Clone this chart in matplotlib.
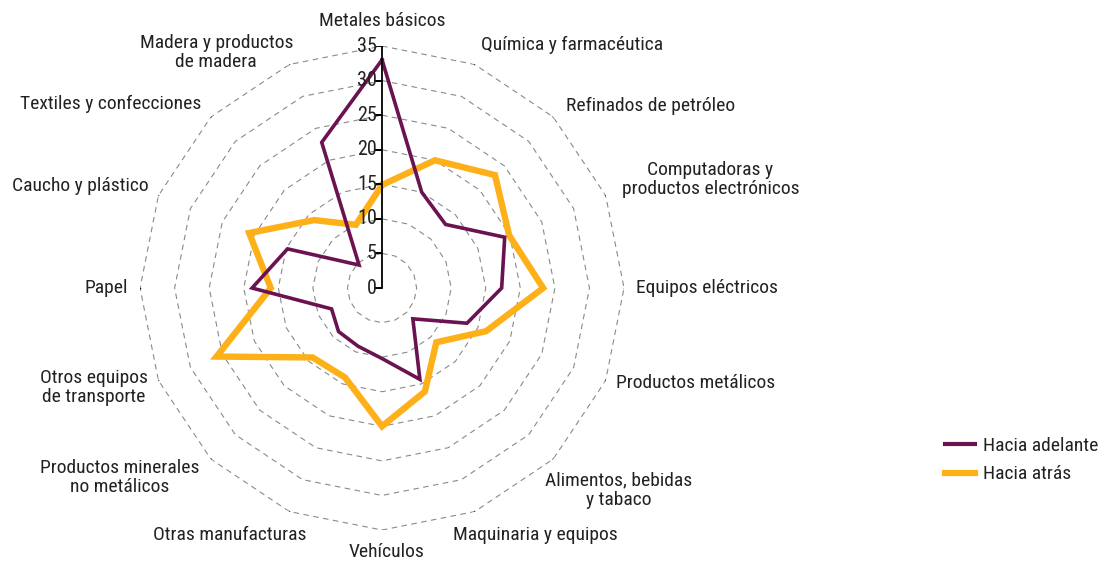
import matplotlib
matplotlib.use('Agg')
import matplotlib.pyplot as plt
import numpy as np
from matplotlib import font_manager
from matplotlib.transforms import offset_copy
from matplotlib.lines import Line2D

categories = ["Metales básicos", "Química y farmacéutica", "Refinados de petróleo",
              "Computadoras y\nproductos electrónicos", "Equipos eléctricos",
              "Productos metálicos", "Alimentos, bebidas\ny tabaco", "Maquinaria y equipos",
              "Vehículos", "Otras manufacturas", "Productos minerales\nno metálicos",
              "Otros equipos\nde transporte", "Papel", "Caucho y plástico",
              "Textiles y confecciones", "Madera y productos\nde madera"]
adelante = [33.0, 15.0, 13.0, 19.2, 17.3, 13.3, 6.3, 14.3, 10.2, 9.1, 8.9, 7.9, 18.8, 14.8, 4.7, 22.8]
atras = [14.9, 20.0, 23.1, 19.9, 23.3, 16.3, 11.1, 16.2, 20.0, 14.0, 14.2, 25.9, 16.1, 20.8, 13.9, 9.9]
ticks = [0, 5, 10, 15, 20, 25, 30, 35]
series_names = ["Hacia adelante", "Hacia atrás"]

names = {f.name for f in font_manager.fontManager.ttflist}
fam = next((f for f in ['Liberation Sans Narrow', 'Roboto Condensed', 'Open Sans Condensed']
            if f in names), 'DejaVu Sans')
plt.rcParams['font.family'] = [fam, 'DejaVu Sans']

PURPLE = '#6b1250'
ORANGE = '#fdb018'
GRID = '#8a8a8a'
TXT = '#222222'
LABEL_FS = 14
TICK_FS = 14.5

fig = plt.figure(figsize=(11.01, 5.62), dpi=100)
ax = fig.add_axes([0.1272, 0.0569, 0.4396, 0.8612], projection='polar')
ax.set_theta_zero_location('N')
ax.set_theta_direction(-1)
ax.set_ylim(0, 35)
ax.axis('off')

n = len(categories)
theta = np.arange(n) * 2 * np.pi / n
theta_c = np.append(theta, theta[0])

# polygon grid
for v in ticks[1:]:
    ax.plot(theta_c, [v] * (n + 1), color=GRID, lw=0.8, ls=(0, (5, 4)), zorder=1)

# small outer ticks
for t in theta:
    ax.plot([t, t], [35, 36], color='black', lw=1, zorder=2)

# series
ax.plot(theta_c, np.append(atras, atras[0]), color=ORANGE, lw=4.6,
        solid_joinstyle='miter', zorder=3, label=series_names[1])
ax.plot(theta_c, np.append(adelante, adelante[0]), color=PURPLE, lw=2.6,
        solid_joinstyle='miter', zorder=4, label=series_names[0])

# radial axis
ax.plot([0, 0], [0, 35], color='black', lw=1.3, zorder=5)
ax.plot([0] * len(ticks), ticks, ls='none', marker=0, markersize=5,
        markeredgewidth=1.3, color='black', zorder=5)
tl_trans = offset_copy(ax.transData, fig=fig, x=-5, y=0, units='dots')
for v in ticks:
    ax.text(0, v, str(v), transform=tl_trans, ha='right', va='center',
            fontsize=TICK_FS, color=TXT, zorder=6)

# category labels (dx, dy in pixels, y downward)
label_pos = [(0, -25, 'center'), (6.5, -19, 'left'), (13, -11, 'left'), (16, -16, 'left'),
             (12, 0, 'left'), (10, 2, 'left'), (-8, 31, 'left'), (-21.6, 23.4, 'left'),
             (4, 22, 'center'), (16.6, 23.4, 'right'), (-11, 18.4, 'right'),
             (-10.4, 7, 'right'), (-12, 0, 'right'), (-9.4, -9.4, 'right'),
             (-10, -13, 'right'), (3.6, -12, 'right')]
for t, lab, (dx, dy, ha) in zip(theta, categories, label_pos):
    tr = offset_copy(ax.transData, fig=fig, x=dx, y=-dy, units='dots')
    ax.text(t, 35, lab, transform=tr, ha=ha, va='center', multialignment='center',
            fontsize=LABEL_FS, color=TXT, linespacing=1.1)

# legend
handles = [Line2D([], [], color=PURPLE, lw=3), Line2D([], [], color=ORANGE, lw=4.5)]
fig.legend(handles, series_names, loc='center left',
           bbox_to_anchor=(945 / 1101, 1 - 460 / 562), frameon=False,
           fontsize=LABEL_FS, handlelength=1.55, handletextpad=0.4, labelspacing=0.55,
           borderpad=0, borderaxespad=0, labelcolor=TXT)

fig.savefig('out.png', dpi=100)
